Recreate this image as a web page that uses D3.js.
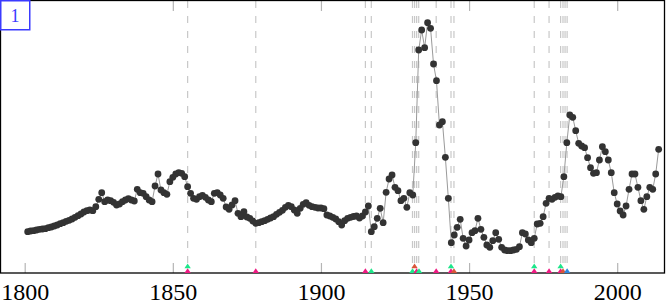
<!DOCTYPE html>
<html>
<head>
<meta charset="utf-8">
<script src="https://cdn.jsdelivr.net/npm/d3@7.9.0/dist/d3.min.js"></script>
<style>
  body { margin: 0; background: #fff; }
  svg { display: block; }
  text { font-family: "Liberation Serif", "DejaVu Serif", serif; }
</style>
</head>
<body>
<svg id="chart" width="666" height="301"></svg>
<script>
// ---------- data ---------- //
const firstYear = 1801;
const values = [
  41.3, 42, 42.3, 43, 43.7, 44, 44.3, 45.3, 46, 47,
  48, 49.3, 50.3, 51.7, 52.7, 54, 55.7, 57.3, 59, 61,
  62.3, 63, 62.3, 66.3, 73.7, 80.3, 71.3, 73, 72.3, 70.7,
  68, 69, 71.3, 73, 74.3, 73, 72, 83.7, 80.3, 79.7,
  76.3, 73, 71.3, 87, 99, 83, 80.3, 78.7, 91.3, 95.7,
  99, 100.3, 99.7, 96.3, 86.3, 79.7, 74.7, 73.7, 76.3, 77.7,
  75.7, 73, 71.3, 79.7, 80.3, 78, 74.7, 66, 63.7, 68,
  72.3, 59.7, 56.3, 61.3, 56, 54.7, 52, 49.7, 50.3, 51.3,
  52.3, 53.7, 55, 56.3, 58.7, 60.7, 62.7, 65.7, 67.7, 66.3,
  63, 59.7, 64.7, 68.7, 70.3, 67.7, 66.3, 65.7, 65, 65,
  64.3, 58, 57, 55.7, 54, 51.3, 48, 52.3, 54.7, 55.7,
  56.5, 57, 55, 57, 61, 67, 41.3, 46.3, 54.7, 64.7,
  50.3, 80.7, 94, 98, 85.7, 82.3, 72.3, 74.7, 65.7, 80.3,
  78, 130.3, 223, 243, 225.3, 250.3, 244.7, 209, 192.3, 148,
  151.3, 115.7, 74.7, 30.3, 38, 45.7, 53.7, 34.7, 27, 33,
  40.3, 42.3, 54.7, 43.7, 35.7, 28, 25.7, 32.3, 40.3, 33.7,
  25.7, 23, 22.3, 22.3, 23, 23.7, 26.3, 40.3, 39, 33,
  30.3, 34.7, 49, 49.7, 56.3, 69.7, 74.7, 73.7, 75.7, 77,
  76.3, 96.3, 130.3, 158, 155.7, 142.3, 129.7, 127, 125.3, 115.3,
  105.3, 99.7, 100.3, 113, 126.3, 121.3, 113, 100.3, 80.3, 69,
  62, 58, 67, 83.7, 99, 99, 85.7, 72.3, 63.7, 76.3,
  85.7, 83.7, 99, 123.7
];
const years = values.map((v, i) => firstYear + i);

const tickYears = [1800, 1850, 1900, 1950, 2000];

// dated events (dashed guides)
const eventYears = [1855, 1878, 1915, 1917, 1930.9, 1931.6, 1932.3, 1933.0,
  1938.9, 1943.9, 1944.9, 1972, 1977, 1980.9, 1981.7, 1982.4, 1983.1];

// event markers along the axis
const markerYears = [1855, 1855, 1878, 1915, 1917, 1930.9, 1931.6, 1932.3, 1933.1,
  1938.9, 1943.9, 1943.9, 1944.9, 1972, 1972, 1977, 1980.9, 1980.9, 1981.7, 1983.1];
const markerKinds = ['pink', 'green', 'pink', 'pink', 'green', 'green', 'red', 'pink', 'green',
  'pink', 'pink', 'green', 'red', 'pink', 'green', 'pink', 'pink', 'green', 'red', 'blue'];
const markerStack = [0, 1, 0, 0, 0, 0, 1, 0, 0,
  0, 0, 1, 0, 0, 1, 0, 0, 1, 0, 0];

const panelLabel = '1';

// ---------- layout ---------- //
const W = 666, H = 301;
const plot = { left: 1, right: 664, top: 1, bottom: 273 };
const kindColor = { pink: '#ee1a82', green: '#1ee68a', red: '#d9553a', blue: '#2f86dc' };

const svg = d3.select('#chart');

const x = d3.scaleLinear().domain([1792, 2015.8]).range([plot.left, plot.right]);
const y = d3.scaleLinear().domain([0, 272]).range([plot.bottom, plot.top]);

// dashed guides
svg.append('g')
  .selectAll('line')
  .data(eventYears)
  .join('line')
  .attr('x1', d => x(d)).attr('x2', d => x(d))
  .attr('y1', plot.top).attr('y2', plot.bottom)
  .attr('stroke', '#c8c8c8')
  .attr('stroke-width', 1.2)
  .attr('stroke-dasharray', '7,8');

// inner ticks (bottom with labels, top without)
const bottomAxis = svg.append('g')
  .attr('transform', `translate(0,${plot.bottom})`)
  .call(d3.axisBottom(x).tickValues(tickYears).tickFormat(d3.format('d')).tickSizeInner(-10).tickSizeOuter(0));
bottomAxis.select('.domain').remove();
bottomAxis.selectAll('.tick line').attr('stroke', '#b5b5b5').attr('stroke-width', 1.2);
bottomAxis.selectAll('.tick text')
  .attr('y', 27).attr('dy', null)
  .attr('fill', '#000')
  .style('font-family', '"Liberation Serif", "DejaVu Serif", serif')
  .style('font-size', '24px');

const topAxis = svg.append('g')
  .attr('transform', `translate(0,${plot.top})`)
  .call(d3.axisTop(x).tickValues(tickYears).tickFormat('').tickSizeInner(-10).tickSizeOuter(0));
topAxis.select('.domain').remove();
topAxis.selectAll('.tick line').attr('stroke', '#b5b5b5').attr('stroke-width', 1.2);

// connecting line
const line = d3.line()
  .x((d, i) => x(years[i]))
  .y(d => y(d));

svg.append('path')
  .datum(values)
  .attr('d', line)
  .attr('fill', 'none')
  .attr('stroke', '#9a9a9a')
  .attr('stroke-width', 1);

// points
svg.append('g')
  .selectAll('circle')
  .data(values)
  .join('circle')
  .attr('cx', (d, i) => x(years[i]))
  .attr('cy', d => y(d))
  .attr('r', 3.4)
  .attr('fill', '#333');

// frame
svg.append('rect')
  .attr('x', plot.left - 0.5).attr('y', plot.top - 0.5)
  .attr('width', plot.right - plot.left + 1)
  .attr('height', plot.bottom - plot.top + 0.5)
  .attr('fill', 'none')
  .attr('stroke', '#000')
  .attr('stroke-width', 1.3);

// markers
const tw = 3.2, th = 4.8;
svg.append('g')
  .selectAll('path')
  .data(markerYears)
  .join('path')
  .attr('d', (d, i) => {
    const cx = x(d);
    const base = plot.bottom - markerStack[i] * th;
    return `M${cx - tw},${base}L${cx + tw},${base}L${cx},${base - th}Z`;
  })
  .attr('fill', (d, i) => kindColor[markerKinds[i]]);

// panel label
svg.append('rect')
  .attr('x', 0.75).attr('y', 0.75)
  .attr('width', 29).attr('height', 29)
  .attr('fill', '#fff')
  .attr('stroke', '#3b3bff')
  .attr('stroke-width', 1.5);
svg.append('text')
  .attr('x', 15).attr('y', 22)
  .attr('text-anchor', 'middle')
  .attr('fill', '#3b3bff')
  .style('font-size', '18px')
  .text(panelLabel);
</script>
</body>
</html>
